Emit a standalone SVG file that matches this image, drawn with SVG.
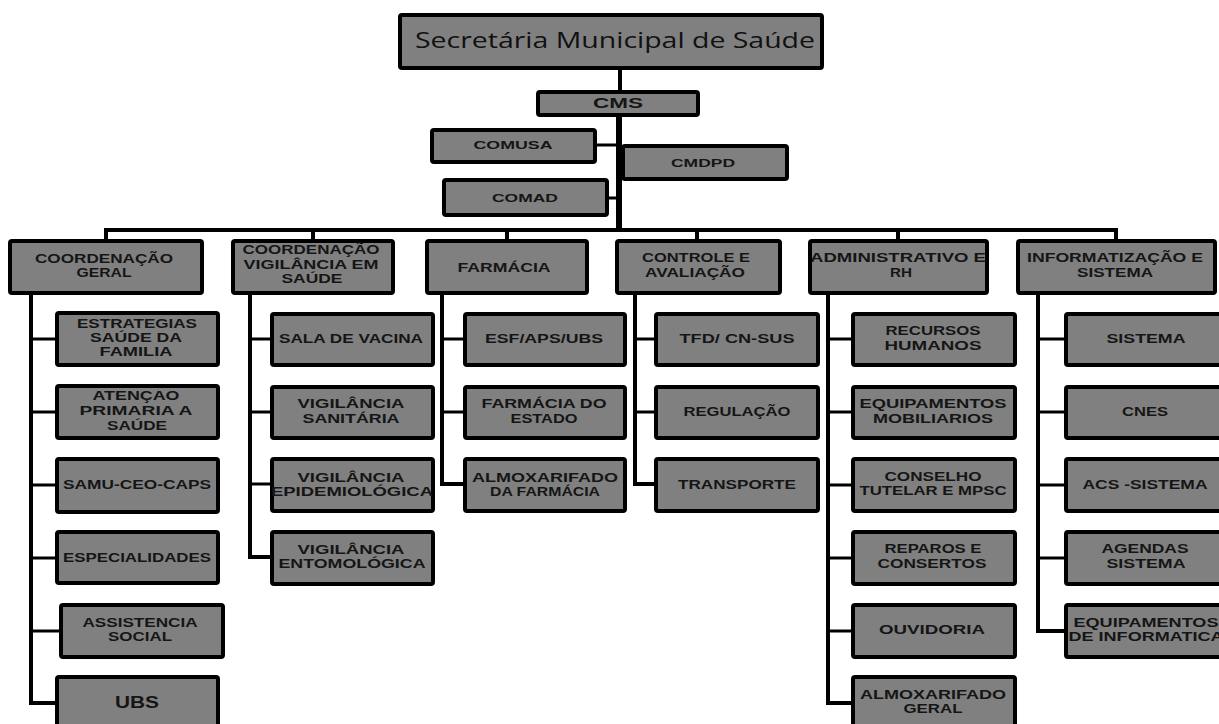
<svg xmlns="http://www.w3.org/2000/svg" width="1219" height="724" viewBox="0 0 1219 724">
<style>
.b{fill:#808080;stroke:#000;stroke-width:4}
.t{font-family:"Liberation Sans",Arial,sans-serif;font-weight:700;font-size:12.5px;fill:#151515;text-anchor:middle}
.s{font-size:12px}
.c{stroke:#000;stroke-width:4;fill:none}
.cm{stroke:#000;stroke-width:3;fill:none}
</style>
<rect width="1219" height="724" fill="#fff"/>
<g id="connectors">
<line class="c" x1="620" y1="68" x2="620" y2="92"/>
<line x1="619" y1="115" x2="619" y2="232" stroke="#000" stroke-width="6"/>
<line class="cm" x1="595" y1="145" x2="619" y2="145"/>
<line class="cm" x1="607" y1="198" x2="619" y2="198"/>
<polyline class="c" points="106,241 106,230 1116,230 1116,241"/>
<line class="c" x1="313" y1="230" x2="313" y2="241"/>
<line class="c" x1="507" y1="230" x2="507" y2="241"/>
<line class="c" x1="697" y1="230" x2="697" y2="241"/>
<line class="c" x1="898" y1="230" x2="898" y2="241"/>
<polyline class="c" points="31,293 31,703 57,703"/>
<line class="cm" x1="31" y1="339" x2="57" y2="339"/>
<line class="cm" x1="31" y1="412" x2="57" y2="412"/>
<line class="cm" x1="31" y1="485" x2="57" y2="485"/>
<line class="cm" x1="31" y1="558" x2="57" y2="558"/>
<line class="cm" x1="31" y1="631" x2="61" y2="631"/>
<polyline class="c" points="250,293 250,557 272,557"/>
<line class="cm" x1="250" y1="339" x2="272" y2="339"/>
<line class="cm" x1="250" y1="412" x2="272" y2="412"/>
<line class="cm" x1="250" y1="484" x2="272" y2="484"/>
<polyline class="c" points="442,293 442,484 465,484"/>
<line class="cm" x1="442" y1="339" x2="465" y2="339"/>
<line class="cm" x1="442" y1="412" x2="465" y2="412"/>
<polyline class="c" points="635,293 635,484 656,484"/>
<line class="cm" x1="635" y1="339" x2="656" y2="339"/>
<line class="cm" x1="635" y1="412" x2="656" y2="412"/>
<polyline class="c" points="828,293 828,703 853,703"/>
<line class="cm" x1="828" y1="339" x2="853" y2="339"/>
<line class="cm" x1="828" y1="412" x2="853" y2="412"/>
<line class="cm" x1="828" y1="485" x2="853" y2="485"/>
<line class="cm" x1="828" y1="558" x2="853" y2="558"/>
<line class="cm" x1="828" y1="631" x2="853" y2="631"/>
<polyline class="c" points="1038,293 1038,631 1066,631"/>
<line class="cm" x1="1038" y1="339" x2="1066" y2="339"/>
<line class="cm" x1="1038" y1="412" x2="1066" y2="412"/>
<line class="cm" x1="1038" y1="485" x2="1066" y2="485"/>
<line class="cm" x1="1038" y1="558" x2="1066" y2="558"/>
</g>
<g id="n-sms"><rect class="b" x="400" y="15" width="422" height="53" rx="2"/><text x="615" y="48" style="font-family:'Open Sans','Liberation Sans',sans-serif;font-size:22px;fill:#111;text-anchor:middle" textLength="400" lengthAdjust="spacingAndGlyphs">Secretária Municipal de Saúde</text></g>
<g id="n-cms"><rect class="b" x="538" y="92" width="160" height="23" rx="2"/><text class="t" x="618" y="108" style="font-size:14.5px" textLength="50" lengthAdjust="spacingAndGlyphs">CMS</text></g>
<g id="n-comusa"><rect class="b" x="432" y="130" width="163" height="32" rx="2"/><text class="t" x="513" y="149" style="font-size:11.5px" textLength="79" lengthAdjust="spacingAndGlyphs">COMUSA</text></g>
<g id="n-cmdpd"><rect class="b" x="623" y="146" width="164" height="33" rx="2"/><text class="t" x="703" y="167" style="font-size:11.5px" textLength="64" lengthAdjust="spacingAndGlyphs">CMDPD</text></g>
<g id="n-comad"><rect class="b" x="444" y="180" width="163" height="35" rx="2"/><text class="t" x="525" y="202" style="font-size:11.5px" textLength="66" lengthAdjust="spacingAndGlyphs">COMAD</text></g>

<g id="n-cg"><rect class="b" x="10" y="241" width="192" height="52" rx="2"/><text class="t" x="104" y="263" textLength="138" lengthAdjust="spacingAndGlyphs">COORDENAÇÃO</text><text class="t" x="104" y="277" textLength="55" lengthAdjust="spacingAndGlyphs">GERAL</text></g>
<g id="n-cv"><rect class="b" x="233" y="241" width="160" height="52" rx="2"/><text class="t s" x="311" y="254" textLength="137" lengthAdjust="spacingAndGlyphs">COORDENAÇÃO</text><text class="t s" x="311" y="269" textLength="135" lengthAdjust="spacingAndGlyphs">VIGILÂNCIA EM</text><text class="t s" x="312" y="283" textLength="61" lengthAdjust="spacingAndGlyphs">SAÚDE</text></g>
<g id="n-farm"><rect class="b" x="427" y="241" width="160" height="52" rx="2"/><text class="t" x="504" y="272" textLength="93" lengthAdjust="spacingAndGlyphs">FARMÁCIA</text></g>
<g id="n-ca"><rect class="b" x="617" y="241" width="163" height="52" rx="2"/><text class="t" x="696" y="262" textLength="108" lengthAdjust="spacingAndGlyphs">CONTROLE E</text><text class="t" x="695" y="277" textLength="100" lengthAdjust="spacingAndGlyphs">AVALIAÇÃO</text></g>
<g id="n-adm"><rect class="b" x="810" y="241" width="177" height="52" rx="2"/><text class="t" x="898" y="262" textLength="176" lengthAdjust="spacingAndGlyphs">ADMINISTRATIVO E</text><text class="t" x="901" y="277" textLength="22" lengthAdjust="spacingAndGlyphs">RH</text></g>
<g id="n-inf"><rect class="b" x="1018" y="241" width="197" height="52" rx="2"/><text class="t" x="1115" y="262" textLength="176" lengthAdjust="spacingAndGlyphs">INFORMATIZAÇÃO E</text><text class="t" x="1115" y="277" textLength="76" lengthAdjust="spacingAndGlyphs">SISTEMA</text></g>

<g id="n-esf"><rect class="b" x="57" y="313" width="161" height="52" rx="2"/><text class="t s" x="137" y="328" textLength="120" lengthAdjust="spacingAndGlyphs">ESTRATEGIAS</text><text class="t s" x="136" y="342" textLength="92" lengthAdjust="spacingAndGlyphs">SAÚDE DA</text><text class="t s" x="136" y="356" textLength="73" lengthAdjust="spacingAndGlyphs">FAMILIA</text></g>
<g id="n-aps"><rect class="b" x="57" y="386" width="161" height="52" rx="2"/><text class="t s" x="136" y="400" textLength="87" lengthAdjust="spacingAndGlyphs">ATENÇAO</text><text class="t s" x="136" y="415" textLength="113" lengthAdjust="spacingAndGlyphs">PRIMARIA  A</text><text class="t s" x="137" y="430" textLength="60" lengthAdjust="spacingAndGlyphs">SAÚDE</text></g>
<g id="n-samu"><rect class="b" x="57" y="459" width="161" height="53" rx="2"/><text class="t" x="137" y="489" textLength="148" lengthAdjust="spacingAndGlyphs">SAMU-CEO-CAPS</text></g>
<g id="n-esp"><rect class="b" x="57" y="532" width="161" height="51" rx="2"/><text class="t" x="137" y="562" textLength="148" lengthAdjust="spacingAndGlyphs">ESPECIALIDADES</text></g>
<g id="n-ass"><rect class="b" x="61" y="605" width="162" height="52" rx="2"/><text class="t" x="140" y="627" textLength="115" lengthAdjust="spacingAndGlyphs">ASSISTENCIA</text><text class="t" x="140" y="641" textLength="64" lengthAdjust="spacingAndGlyphs">SOCIAL</text></g>
<g id="n-ubs"><rect class="b" x="57" y="677" width="161" height="60" rx="2"/><text class="t" x="137" y="708" style="font-size:16px" textLength="44" lengthAdjust="spacingAndGlyphs">UBS</text></g>

<g id="n-sala"><rect class="b" x="272" y="314" width="161" height="51" rx="2"/><text class="t" x="351" y="343" textLength="144" lengthAdjust="spacingAndGlyphs">SALA DE VACINA</text></g>
<g id="n-visa"><rect class="b" x="272" y="387" width="161" height="51" rx="2"/><text class="t" x="351" y="408" textLength="107" lengthAdjust="spacingAndGlyphs">VIGILÂNCIA</text><text class="t" x="351" y="423" textLength="97" lengthAdjust="spacingAndGlyphs">SANITÁRIA</text></g>
<g id="n-viep"><rect class="b" x="272" y="459" width="161" height="52" rx="2"/><text class="t" x="351" y="482" textLength="107" lengthAdjust="spacingAndGlyphs">VIGILÂNCIA</text><text class="t" x="352" y="496" textLength="162" lengthAdjust="spacingAndGlyphs">EPIDEMIOLÓGICA</text></g>
<g id="n-vien"><rect class="b" x="272" y="532" width="161" height="52" rx="2"/><text class="t" x="351" y="554" textLength="107" lengthAdjust="spacingAndGlyphs">VIGILÂNCIA</text><text class="t" x="352" y="568" textLength="147" lengthAdjust="spacingAndGlyphs">ENTOMOLÓGICA</text></g>

<g id="n-esfaps"><rect class="b" x="465" y="314" width="160" height="51" rx="2"/><text class="t" x="544" y="343" textLength="118" lengthAdjust="spacingAndGlyphs">ESF/APS/UBS</text></g>
<g id="n-fest"><rect class="b" x="465" y="387" width="160" height="51" rx="2"/><text class="t" x="544" y="408" textLength="125" lengthAdjust="spacingAndGlyphs">FARMÁCIA DO</text><text class="t" x="544" y="423" textLength="67" lengthAdjust="spacingAndGlyphs">ESTADO</text></g>
<g id="n-almf"><rect class="b" x="465" y="459" width="160" height="52" rx="2"/><text class="t" x="545" y="482" textLength="146" lengthAdjust="spacingAndGlyphs">ALMOXARIFADO</text><text class="t" x="545" y="496" textLength="110" lengthAdjust="spacingAndGlyphs">DA FARMÁCIA</text></g>

<g id="n-tfd"><rect class="b" x="656" y="314" width="162" height="51" rx="2"/><text class="t" x="737" y="343" textLength="115" lengthAdjust="spacingAndGlyphs">TFD/ CN-SUS</text></g>
<g id="n-reg"><rect class="b" x="656" y="387" width="162" height="51" rx="2"/><text class="t" x="737" y="416" textLength="107" lengthAdjust="spacingAndGlyphs">REGULAÇÃO</text></g>
<g id="n-trans"><rect class="b" x="656" y="459" width="162" height="52" rx="2"/><text class="t" x="737" y="489" textLength="118" lengthAdjust="spacingAndGlyphs">TRANSPORTE</text></g>

<g id="n-rh"><rect class="b" x="853" y="314" width="162" height="51" rx="2"/><text class="t" x="933" y="335" textLength="95" lengthAdjust="spacingAndGlyphs">RECURSOS</text><text class="t" x="933" y="350" textLength="97" lengthAdjust="spacingAndGlyphs">HUMANOS</text></g>
<g id="n-eqm"><rect class="b" x="853" y="387" width="162" height="51" rx="2"/><text class="t" x="933" y="408" textLength="147" lengthAdjust="spacingAndGlyphs">EQUIPAMENTOS</text><text class="t" x="933" y="423" textLength="120" lengthAdjust="spacingAndGlyphs">MOBILIARIOS</text></g>
<g id="n-ct"><rect class="b" x="853" y="459" width="162" height="52" rx="2"/><text class="t" x="933" y="481" textLength="97" lengthAdjust="spacingAndGlyphs">CONSELHO</text><text class="t" x="933" y="495" textLength="147" lengthAdjust="spacingAndGlyphs">TUTELAR E MPSC</text></g>
<g id="n-rep"><rect class="b" x="853" y="532" width="162" height="52" rx="2"/><text class="t" x="933" y="553" textLength="97" lengthAdjust="spacingAndGlyphs">REPAROS E</text><text class="t" x="932" y="568" textLength="109" lengthAdjust="spacingAndGlyphs">CONSERTOS</text></g>
<g id="n-ouv"><rect class="b" x="853" y="605" width="162" height="52" rx="2"/><text class="t" x="932" y="634" textLength="106" lengthAdjust="spacingAndGlyphs">OUVIDORIA</text></g>
<g id="n-almg"><rect class="b" x="853" y="677" width="162" height="60" rx="2"/><text class="t" x="933" y="699" textLength="146" lengthAdjust="spacingAndGlyphs">ALMOXARIFADO</text><text class="t" x="933" y="713" textLength="59" lengthAdjust="spacingAndGlyphs">GERAL</text></g>

<g id="n-sis"><rect class="b" x="1066" y="314" width="161" height="51" rx="2"/><text class="t" x="1146" y="343" textLength="79" lengthAdjust="spacingAndGlyphs">SISTEMA</text></g>
<g id="n-cnes"><rect class="b" x="1066" y="387" width="161" height="51" rx="2"/><text class="t" x="1145" y="416" textLength="46" lengthAdjust="spacingAndGlyphs">CNES</text></g>
<g id="n-acs"><rect class="b" x="1066" y="459" width="161" height="52" rx="2"/><text class="t" x="1145" y="489" textLength="125" lengthAdjust="spacingAndGlyphs">ACS -SISTEMA</text></g>
<g id="n-age"><rect class="b" x="1066" y="532" width="161" height="52" rx="2"/><text class="t" x="1145" y="553" textLength="87" lengthAdjust="spacingAndGlyphs">AGENDAS</text><text class="t" x="1146" y="568" textLength="79" lengthAdjust="spacingAndGlyphs">SISTEMA</text></g>
<g id="n-eqi"><rect class="b" x="1066" y="605" width="161" height="52" rx="2"/><text class="t" x="1146" y="627" textLength="145" lengthAdjust="spacingAndGlyphs">EQUIPAMENTOS</text><text class="t" x="1146" y="641" textLength="155" lengthAdjust="spacingAndGlyphs">DE INFORMATICA</text></g>
</svg>
